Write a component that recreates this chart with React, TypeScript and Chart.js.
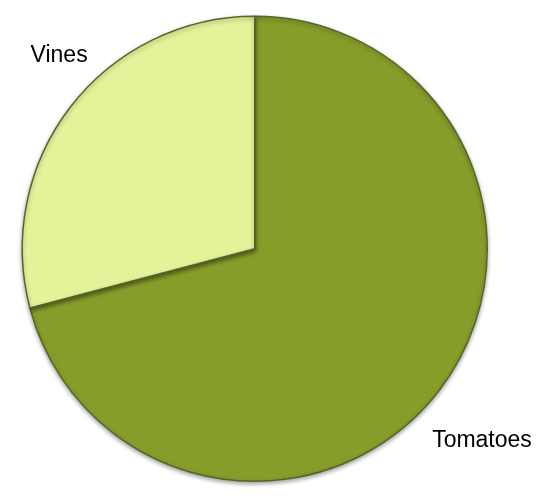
import React, { useEffect, useRef } from "react";
import { Chart, registerables } from "chart.js";

Chart.register(...registerables);

const categories = ["Tomatoes", "Vines"];
const values = [70.9, 29.1];
const sliceColors = ["#879D2A", "#E4F39A"];
// label placement (baseline centre): [screen angle in degrees, radius factor]
const labelPlacement: [number, number][] = [
  [41.1, 1.297],
  [223.65, 1.163],
];

const shadowPlugin = {
  id: "pieShadow",
  beforeDatasetsDraw(chart: any) {
    const ctx = chart.ctx;
    ctx.save();
    ctx.shadowColor = "rgba(0,0,0,0.35)";
    ctx.shadowBlur = 4;
    ctx.shadowOffsetX = 0;
    ctx.shadowOffsetY = 2;
  },
  afterDatasetsDraw(chart: any) {
    chart.ctx.restore();
  },
};

const labelPlugin = {
  id: "outerLabels",
  afterDraw(chart: any) {
    const ctx = chart.ctx;
    const meta = chart.getDatasetMeta(0);
    ctx.save();
    ctx.font = "23px 'Liberation Sans', Arial, sans-serif";
    ctx.fillStyle = "#000";
    ctx.textAlign = "center";
    ctx.textBaseline = "alphabetic";
    meta.data.forEach((arc: any, i: number) => {
      const { x, y, outerRadius } = arc.getProps(["x", "y", "outerRadius"], true);
      const [deg, f] = labelPlacement[i];
      const a = (deg * Math.PI) / 180;
      ctx.fillText(categories[i], x + Math.cos(a) * outerRadius * f, y + Math.sin(a) * outerRadius * f);
    });
    ctx.restore();
  },
};

export default function App() {
  const ref = useRef<HTMLCanvasElement>(null);
  useEffect(() => {
    if (!ref.current) return;
    const chart = new Chart(ref.current, {
      type: "pie",
      data: {
        labels: categories,
        datasets: [
          {
            data: values,
            backgroundColor: sliceColors,
            borderColor: "#56662A",
            borderWidth: 1.5,
          },
        ],
      },
      options: {
        responsive: false,
        animation: false,
        layout: { padding: { left: 21.5, right: 72, top: 15.5, bottom: 17 } },
        plugins: { legend: { display: false }, tooltip: { enabled: false } },
      },
      plugins: [shadowPlugin, labelPlugin],
    });
    return () => chart.destroy();
  }, []);
  return (
    <div style={{ position: "fixed", left: 0, top: 0, width: 560, height: 499, background: "#fff" }}>
      <canvas ref={ref} width={560} height={499} />
    </div>
  );
}
